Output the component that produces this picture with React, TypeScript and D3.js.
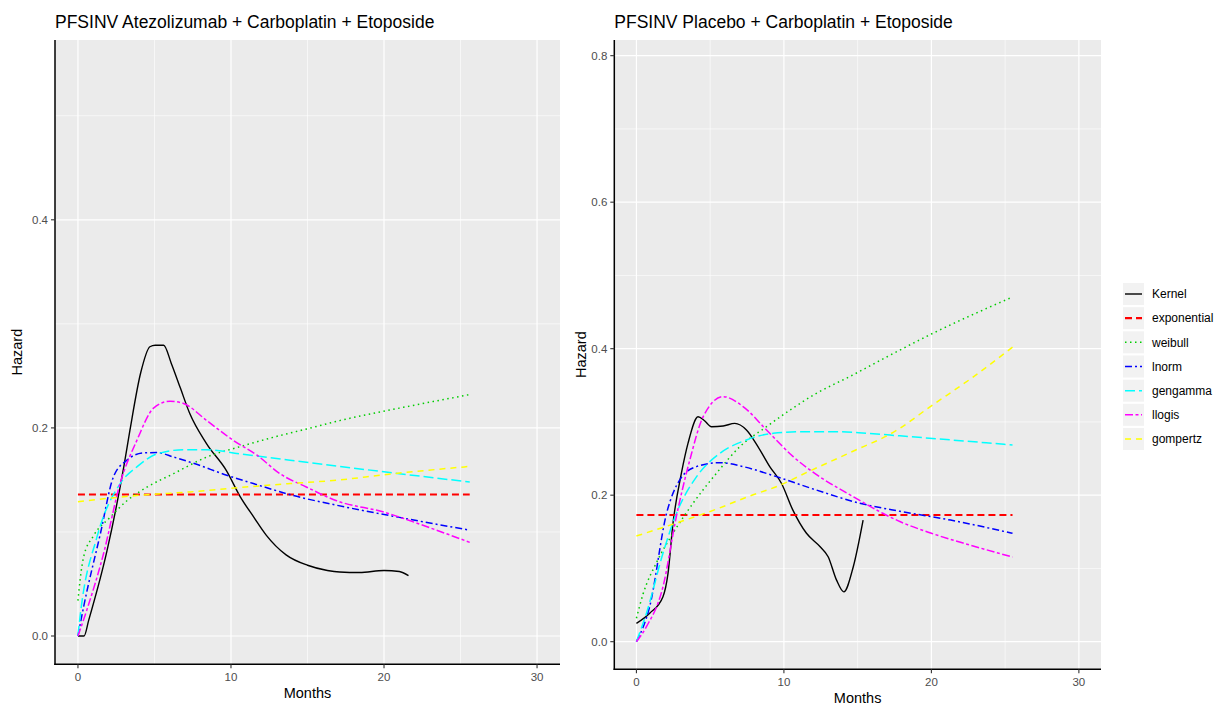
import React from "react";
import * as d3 from "d3";

type Pt = [number, number];

const leftTitle = "PFSINV Atezolizumab + Carboplatin + Etoposide";
const rightTitle = "PFSINV Placebo + Carboplatin + Etoposide";
const xTicks = [0, 10, 20, 30];
const xMinor = [5, 15, 25];
const leftYTicks = [0, 0.2, 0.4];
const leftYMinor = [0.1, 0.3, 0.5];
const rightYTicks = [0, 0.2, 0.4, 0.6, 0.8];
const rightYMinor = [0.1, 0.3, 0.5, 0.7];
const seriesNames = ["Kernel", "exponential", "weibull", "lnorm", "gengamma", "llogis", "gompertz"];

// Atezolizumab arm (months, hazard)
const ateKernel: Pt[] = [[0, 0], [0.4, 0], [0.7, 0.015], [1.9, 0.082], [3.0, 0.163], [3.4, 0.198], [4.1, 0.253], [4.7, 0.278], [5.05, 0.2795], [5.6, 0.2795], [6.1, 0.262], [6.7, 0.238], [7.3, 0.214], [8.4, 0.185], [9.7, 0.159], [10.6, 0.134], [11.5, 0.114], [12.3, 0.097], [13.6, 0.078], [15.0, 0.068], [16.3, 0.063], [17.1, 0.0615], [18.4, 0.061], [20.0, 0.063], [21.0, 0.062], [21.6, 0.058]];
const ateExp: Pt[] = [[0, 0.136], [25.6, 0.136]];
const ateWeibull: Pt[] = [[0, 0.034], [0.15, 0.055], [0.37, 0.076], [1.0, 0.096], [2.1, 0.114], [3.2, 0.13], [4.5, 0.143], [6.24, 0.156], [8.42, 0.172], [10.6, 0.182], [12.77, 0.191], [14.95, 0.199], [17.1, 0.207], [21, 0.219], [25.6, 0.232]];
const ateLnorm: Pt[] = [[0, 0], [0.37, 0.028], [1.46, 0.098], [2.32, 0.153], [3.2, 0.169], [4.28, 0.176], [5.16, 0.1763], [6.24, 0.172], [7.55, 0.166], [9.72, 0.1545], [11.46, 0.1465], [14.07, 0.135], [16.9, 0.1257], [21, 0.114], [25.6, 0.1017]];
const ateGengamma: Pt[] = [[0, 0], [0.15, 0.02], [1.24, 0.095], [2.76, 0.1465], [3.85, 0.1625], [5.16, 0.175], [6.9, 0.179], [8.42, 0.179], [10.6, 0.175], [13.86, 0.169], [17.1, 0.163], [21, 0.156], [25.6, 0.148]];
const ateLlogis: Pt[] = [[0, 0], [0.58, 0.025], [1.67, 0.079], [2.76, 0.147], [3.85, 0.188], [4.94, 0.219], [6.02, 0.2257], [6.9, 0.2235], [8.42, 0.207], [10.15, 0.188], [11.68, 0.174], [13.2, 0.156], [14.95, 0.143], [16.9, 0.13], [20, 0.119], [23, 0.104], [25.6, 0.09]];
const ateGompertz: Pt[] = [[0, 0.129], [4.07, 0.1353], [7.33, 0.1385], [10.6, 0.1427], [13.86, 0.1465], [17.1, 0.15], [20, 0.155], [25.6, 0.163]];

// Placebo arm
const plaKernel: Pt[] = [[0, 0.025], [0.9, 0.0388], [1.8, 0.0615], [2.14, 0.093], [2.48, 0.1616], [3.05, 0.23], [3.5, 0.271], [4.18, 0.307], [4.6, 0.302], [5.09, 0.2935], [5.88, 0.2945], [6.67, 0.298], [7.46, 0.289], [8.25, 0.266], [9.04, 0.239], [9.84, 0.216], [10.6, 0.18], [11.53, 0.148], [12.44, 0.13], [13.0, 0.116], [13.57, 0.084], [14.06, 0.068], [14.7, 0.102], [15.37, 0.166]];
const plaExp: Pt[] = [[0, 0.173], [25.5, 0.173]];
const plaWeibull: Pt[] = [[0, 0.032], [0.45, 0.065], [1.36, 0.108], [2.48, 0.148], [3.84, 0.189], [5.43, 0.23], [7.0, 0.266], [8.82, 0.2935], [10.4, 0.316], [12.2, 0.339], [14.47, 0.362], [17, 0.389], [20, 0.42], [25.5, 0.4705]];
const plaLnorm: Pt[] = [[0, 0], [0.9, 0.048], [2.04, 0.175], [2.94, 0.221], [4.07, 0.239], [5.65, 0.2444], [7.23, 0.239], [9.5, 0.2253], [12.2, 0.207], [15.15, 0.189], [17.86, 0.178], [21.3, 0.166], [25.5, 0.148]];
const plaGengamma: Pt[] = [[0, 0], [0.68, 0.0388], [1.8, 0.1207], [2.71, 0.175], [4.07, 0.225], [5.65, 0.257], [7.46, 0.2754], [9.27, 0.2845], [11.53, 0.2867], [13.8, 0.2867], [15.6, 0.2845], [17.86, 0.281], [25.5, 0.2685]];
const plaLlogis: Pt[] = [[0, 0], [0.68, 0.0205], [1.8, 0.075], [2.71, 0.171], [3.62, 0.248], [4.52, 0.307], [5.88, 0.3345], [7.23, 0.321], [8.82, 0.289], [10.63, 0.2526], [12.44, 0.225], [14.7, 0.198], [16.7, 0.1753], [17.86, 0.164], [20, 0.148], [22.6, 0.132], [25.5, 0.1156]];
const plaGompertz: Pt[] = [[0, 0.1443], [3.16, 0.165], [5.43, 0.181], [7.7, 0.199], [9.6, 0.2125], [11.65, 0.232], [14.47, 0.258], [17.6, 0.288], [20, 0.322], [22.6, 0.358], [25.5, 0.402]];

const styles = [
  { color: "#000000", dash: "", width: 1.4 },
  { color: "#ff0000", dash: "7 4", width: 2.1 },
  { color: "#00cd00", dash: "1.5 3.5", width: 1.5 },
  { color: "#0000ff", dash: "7 3 2 3", width: 1.5 },
  { color: "#00ffff", dash: "10 4", width: 1.5 },
  { color: "#ff00ff", dash: "8 2.5 3 2.5", width: 1.5 },
  { color: "#ffff00", dash: "6 5", width: 1.5 },
];

const FONT = "'Liberation Sans', Arial, sans-serif";

interface PanelProps {
  title: string;
  series: Pt[][];
  left: number;
  right: number;
  top: number;
  bottom: number;
  yDomain: [number, number];
  yTicks: number[];
  yMinor: number[];
  yTitleX: number;
}

function Panel({ title, series, left, right, top, bottom, yDomain, yTicks, yMinor, yTitleX }: PanelProps) {
  const x = d3.scaleLinear().domain([-1.5, 31.5]).range([left, right]);
  const y = d3.scaleLinear().domain(yDomain).range([bottom, top]);
  const line = d3
    .line<Pt>()
    .x((d) => x(d[0]))
    .y((d) => y(d[1]))
    .curve(d3.curveMonotoneX);
  const fmt = d3.format(".1f");

  return (
    <g>
      <text x={left} y={28} fontFamily={FONT} fontSize={17.5} fill="#000">
        {title}
      </text>
      <rect x={left} y={top} width={right - left} height={bottom - top} fill="#ebebeb" />
      {yMinor.map((t) => (
        <line key={"ym" + t} x1={left} x2={right} y1={y(t)} y2={y(t)} stroke="#fff" strokeWidth={0.6} />
      ))}
      {xMinor.map((t) => (
        <line key={"xm" + t} x1={x(t)} x2={x(t)} y1={top} y2={bottom} stroke="#fff" strokeWidth={0.6} />
      ))}
      {yTicks.map((t) => (
        <line key={"yg" + t} x1={left} x2={right} y1={y(t)} y2={y(t)} stroke="#fff" strokeWidth={1.2} />
      ))}
      {xTicks.map((t) => (
        <line key={"xg" + t} x1={x(t)} x2={x(t)} y1={top} y2={bottom} stroke="#fff" strokeWidth={1.2} />
      ))}
      <g>
        {series.map((s, i) => (
          <path
            key={i}
            d={line(s) || ""}
            fill="none"
            stroke={styles[i].color}
            strokeWidth={styles[i].width}
            strokeDasharray={styles[i].dash || undefined}
          />
        ))}
      </g>
      <line x1={left} x2={left} y1={top} y2={bottom + 0.75} stroke="#000" strokeWidth={1.5} />
      <line x1={left - 0.75} x2={right} y1={bottom} y2={bottom} stroke="#000" strokeWidth={1.5} />
      {yTicks.map((t) => (
        <g key={"yt" + t}>
          <line x1={left - 4} x2={left} y1={y(t)} y2={y(t)} stroke="#333" strokeWidth={1.1} />
          <text
            x={left - 7}
            y={y(t)}
            dy="0.35em"
            textAnchor="end"
            fontFamily={FONT}
            fontSize={11.5}
            fill="#4d4d4d"
          >
            {fmt(t)}
          </text>
        </g>
      ))}
      {xTicks.map((t) => (
        <g key={"xt" + t}>
          <line x1={x(t)} x2={x(t)} y1={bottom} y2={bottom + 4} stroke="#333" strokeWidth={1.1} />
          <text x={x(t)} y={bottom + 16.5} textAnchor="middle" fontFamily={FONT} fontSize={11.5} fill="#4d4d4d">
            {t}
          </text>
        </g>
      ))}
      <text
        x={(left + right) / 2}
        y={bottom + 34}
        textAnchor="middle"
        fontFamily={FONT}
        fontSize={14.5}
        fill="#000"
      >
        Months
      </text>
      <text
        transform={`translate(${yTitleX},${(top + bottom) / 2}) rotate(-90)`}
        textAnchor="middle"
        fontFamily={FONT}
        fontSize={14.5}
        fill="#000"
      >
        Hazard
      </text>
    </g>
  );
}

export default function App() {
  const ateSeries = [ateKernel, ateExp, ateWeibull, ateLnorm, ateGengamma, ateLlogis, ateGompertz];
  const plaSeries = [plaKernel, plaExp, plaWeibull, plaLnorm, plaGengamma, plaLlogis, plaGompertz];
  const legendY = d3.scalePoint<string>().domain(seriesNames).range([294, 439]);

  return (
    <svg
      width={1214}
      height={706}
      style={{ position: "absolute", left: 0, top: 0, background: "#fff" }}
    >
      <rect width={1214} height={706} fill="#fff" />
      <Panel
        title={leftTitle}
        series={ateSeries}
        left={55}
        right={560}
        top={40}
        bottom={664.3}
        yDomain={[-0.0272, 0.5728]}
        yTicks={leftYTicks}
        yMinor={leftYMinor}
        yTitleX={22}
      />
      <Panel
        title={rightTitle}
        series={plaSeries}
        left={614.3}
        right={1101}
        top={40}
        bottom={669.3}
        yDomain={[-0.0377, 0.8214]}
        yTicks={rightYTicks}
        yMinor={rightYMinor}
        yTitleX={586}
      />
      <g>
        {seriesNames.map((name, i) => {
          const cy = legendY(name) || 0;
          return (
            <g key={name}>
              <rect x={1123} y={cy - 11} width={21} height={22} fill="#f2f2f2" />
              <line
                x1={1125}
                x2={1142}
                y1={cy}
                y2={cy}
                stroke={styles[i].color}
                strokeWidth={styles[i].width}
                strokeDasharray={styles[i].dash || undefined}
              />
              <text x={1152} y={cy} dy="0.35em" fontFamily={FONT} fontSize={12} fill="#000">
                {name}
              </text>
            </g>
          );
        })}
      </g>
    </svg>
  );
}
